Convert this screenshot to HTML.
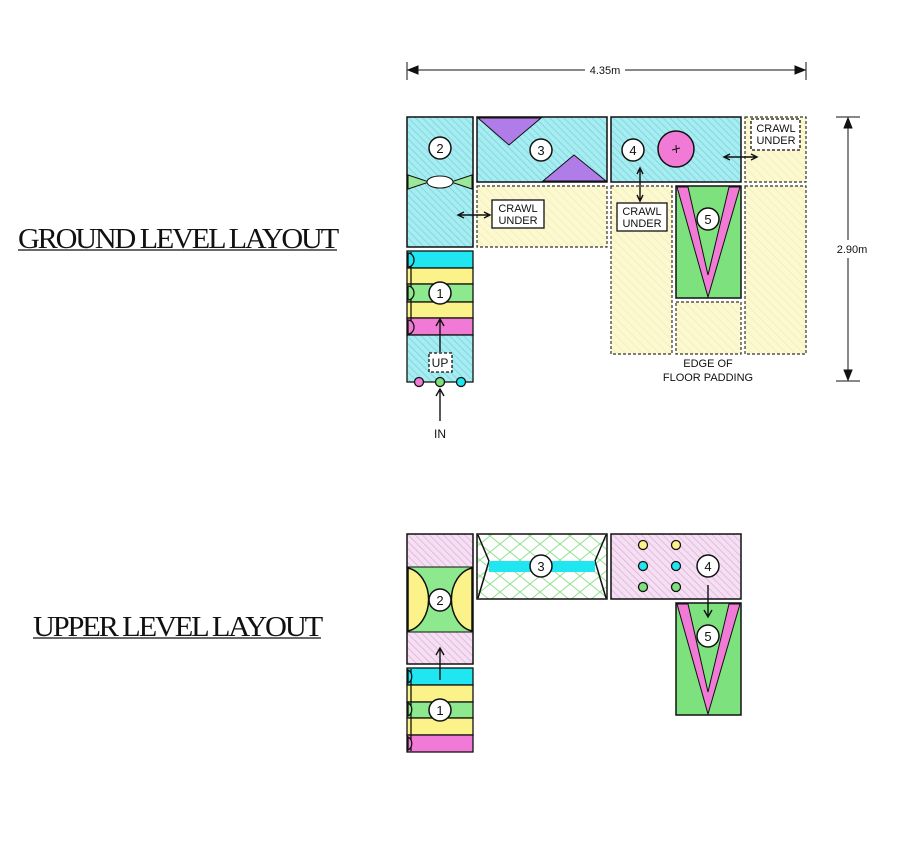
<!DOCTYPE html>
<html><head><style>
html,body{margin:0;padding:0;background:#fff;}
svg{display:block;}
.t{font-family:"Liberation Sans",sans-serif;font-size:11px;fill:#111;}
.ttl{font-family:"Liberation Serif",serif;font-size:28px;fill:#111;letter-spacing:-2px;}
</style></head><body>
<svg width="898" height="855" viewBox="0 0 898 855" xmlns="http://www.w3.org/2000/svg">
<defs>
<pattern id="cy" width="5" height="5" patternUnits="userSpaceOnUse" patternTransform="rotate(-45)">
<rect width="5" height="5" fill="#a6ecf0"/><line x1="0" y1="0" x2="0" y2="5" stroke="#6fd0da" stroke-width="1.3"/></pattern>
<pattern id="ye" width="6" height="6" patternUnits="userSpaceOnUse" patternTransform="rotate(-45)">
<rect width="6" height="6" fill="#fcf8cf"/><line x1="0" y1="0" x2="0" y2="6" stroke="#f3edba" stroke-width="1.5"/></pattern>
<pattern id="pk" width="5" height="5" patternUnits="userSpaceOnUse" patternTransform="rotate(-45)">
<rect width="5" height="5" fill="#f5dff2"/><line x1="0" y1="0" x2="0" y2="5" stroke="#dba8d8" stroke-width="1.3"/></pattern>
<pattern id="gx" width="20" height="16" patternUnits="userSpaceOnUse">
<rect width="20" height="16" fill="#fff"/><path d="M0 0L20 16M20 0L0 16" stroke="#8fe08f" stroke-width="1"/></pattern>
</defs>

<!-- titles -->
<text x="18" y="248" class="ttl" textLength="319" lengthAdjust="spacingAndGlyphs">GROUND LEVEL LAYOUT</text>
<line x1="18" y1="250" x2="337" y2="250" stroke="#111" stroke-width="1.3"/>
<text x="33" y="636" class="ttl" textLength="288" lengthAdjust="spacingAndGlyphs">UPPER LEVEL LAYOUT</text>
<line x1="33" y1="638" x2="321" y2="638" stroke="#111" stroke-width="1.3"/>

<!-- dimensions -->
<line x1="407" y1="62" x2="407" y2="80" stroke="#111"/>
<line x1="806" y1="62" x2="806" y2="80" stroke="#111"/>
<path d="M409 70L585 70M625 70L804 70" stroke="#111"/>
<path d="M418 66L408 70L418 74ZM795 66L805 70L795 74Z" fill="#111" stroke="#111"/>
<text x="605" y="74" class="t" text-anchor="middle">4.35m</text>
<line x1="836" y1="117" x2="860" y2="117" stroke="#111"/>
<line x1="836" y1="381" x2="860" y2="381" stroke="#111"/>
<path d="M848 118L848 240M848 258L848 380" stroke="#111"/>
<path d="M844 128L848 118L852 128ZM844 370L848 380L852 370Z" fill="#111" stroke="#111"/>
<text x="852" y="253" class="t" text-anchor="middle">2.90m</text>

<!-- GROUND -->
<g stroke="#111" stroke-width="1.5">
<rect x="407" y="117" width="66" height="130" fill="url(#cy)"/>
<rect x="477" y="117" width="130" height="65" fill="url(#cy)"/>
<rect x="611" y="117" width="130" height="65" fill="url(#cy)"/>
</g>
<g stroke="#333" stroke-width="1.2" stroke-dasharray="3,2">
<rect x="477" y="186" width="130" height="61" fill="url(#ye)"/>
<rect x="745" y="117" width="61" height="65" fill="url(#ye)"/>
<rect x="611" y="186" width="61" height="168" fill="url(#ye)"/>
<rect x="676" y="302" width="65" height="52" fill="url(#ye)"/>
<rect x="745" y="186" width="61" height="168" fill="url(#ye)"/>
</g>
<!-- bowtie -->
<path d="M408 175L429 182L408 189Z M472 175L451 182L472 189Z" fill="#9be89b" stroke="#111"/>
<ellipse cx="440" cy="182" rx="13" ry="6" fill="#fff" stroke="#111"/>
<!-- triangles -->
<path d="M478 118L541 118L509 145Z M543 181L606 181L574 155Z" fill="#b07de8" stroke="#111"/>
<!-- green 5 -->
<rect x="676" y="186" width="65" height="112" fill="#7de27d" stroke="#111" stroke-width="1.5"/>
<path d="M677 187L688 187L708 275L729 187L740 187L708 297Z" fill="#f07ad6" stroke="#111"/>
<!-- pink circle -->
<circle cx="676" cy="149" r="18" fill="#f07ad6" stroke="#111" stroke-width="1.5"/>
<path d="M672 150l8 -2M676 145l0.5 8" stroke="#111"/>
<!-- box 1 ground -->
<g stroke="#111" stroke-width="1.3">
<rect x="407" y="251" width="66" height="17" fill="#1fe6f0"/>
<rect x="407" y="268" width="66" height="16" fill="#fbf389"/>
<rect x="407" y="284" width="66" height="18" fill="#8ee88e"/>
<rect x="407" y="302" width="66" height="16" fill="#fbf389"/>
<rect x="407" y="318" width="66" height="17" fill="#f07ad6"/>
<rect x="407" y="335" width="66" height="47" fill="url(#cy)"/>
<line x1="411" y1="252" x2="411" y2="334"/>
<path d="M408 253a6 7 0 0 1 0 14Z" fill="#1fe6f0"/>
<path d="M408 286a6 7 0 0 1 0 14Z" fill="#8ee88e"/>
<path d="M408 320a6 7 0 0 1 0 14Z" fill="#f07ad6"/>
<circle cx="419" cy="382" r="4.5" fill="#f07ad6"/>
<circle cx="440" cy="382" r="4.5" fill="#7de27d"/>
<circle cx="461" cy="382" r="4.5" fill="#1fe6f0"/>
</g>
<!-- labels boxes -->
<g stroke="#111" stroke-width="1.3" fill="#fff">
<rect x="492" y="200" width="52" height="28"/>
<rect x="617" y="203" width="50" height="28"/>
<rect x="751" y="119" width="49" height="31" stroke-dasharray="3,2"/>
<rect x="429" y="353" width="23" height="19" stroke-dasharray="3,2"/>
</g>
<text x="518" y="212" class="t" text-anchor="middle">CRAWL</text>
<text x="518" y="224" class="t" text-anchor="middle">UNDER</text>
<text x="642" y="215" class="t" text-anchor="middle">CRAWL</text>
<text x="642" y="227" class="t" text-anchor="middle">UNDER</text>
<text x="776" y="132" class="t" text-anchor="middle">CRAWL</text>
<text x="776" y="144" class="t" text-anchor="middle">UNDER</text>
<text x="440" y="367" class="t" text-anchor="middle" style="font-size:12px">UP</text>
<text x="708" y="367" class="t" text-anchor="middle">EDGE OF</text>
<text x="708" y="381" class="t" text-anchor="middle">FLOOR PADDING</text>
<text x="440" y="438" class="t" text-anchor="middle" style="font-size:12px">IN</text>
<!-- arrows -->
<g stroke="#111" stroke-width="1.4" fill="none">
<path d="M459 215L490 215M464 212L458 215L464 218M484 212L490 215L484 218"/>
<path d="M640 168L640 201M637 174L640 168L643 174M637 195L640 201L643 195"/>
<path d="M724 157L757 157M730 154L724 157L730 160M751 154L757 157L751 160"/>
<path d="M440 352L440 319M436 326L440 319L444 326"/>
<path d="M440 421L440 389M436 396L440 389L444 396"/>
</g>
<!-- number circles ground -->
<g stroke="#111" stroke-width="1.5" fill="#fff">
<circle cx="440" cy="148" r="11"/><circle cx="541" cy="150" r="11"/>
<circle cx="633" cy="150" r="11"/><circle cx="708" cy="219" r="11"/>
<circle cx="440" cy="293" r="11"/>
</g>
<g class="t" style="font-size:13px" text-anchor="middle">
<text x="440" y="153">2</text><text x="541" y="155">3</text><text x="633" y="155">4</text>
<text x="708" y="224">5</text><text x="440" y="298">1</text>
</g>

<!-- UPPER -->
<g stroke="#111" stroke-width="1.5">
<rect x="407" y="534" width="66" height="130" fill="url(#pk)"/>
<rect x="408" y="567" width="64" height="65" fill="#8ee88e" stroke="none"/>
<line x1="407" y1="567" x2="473" y2="567" stroke-width="1"/>
<line x1="407" y1="632" x2="473" y2="632" stroke-width="1"/>
<path d="M408 568a25 32 0 0 1 0 63Z M472 568a25 32 0 0 0 0 63Z" fill="#fbf389"/>
<rect x="477" y="534" width="130" height="65" fill="url(#gx)"/>
<path d="M478 535L489 561L478 598 M606 535L595 561L606 598" fill="none"/>
<rect x="489" y="561" width="106" height="11" fill="#1fe6f0" stroke="none"/>
<rect x="611" y="534" width="130" height="65" fill="url(#pk)"/>
<rect x="676" y="603" width="65" height="112" fill="#7de27d"/>
<path d="M677 604L688 604L708 692L729 604L740 604L708 714Z" fill="#f07ad6" stroke-width="1"/>
</g>
<g stroke="#111" stroke-width="1.3">
<rect x="407" y="668" width="66" height="17" fill="#1fe6f0"/>
<rect x="407" y="685" width="66" height="17" fill="#fbf389"/>
<rect x="407" y="702" width="66" height="16" fill="#8ee88e"/>
<rect x="407" y="718" width="66" height="17" fill="#fbf389"/>
<rect x="407" y="735" width="66" height="17" fill="#f07ad6"/>
<line x1="411" y1="669" x2="411" y2="751"/>
<path d="M408 670a6 7 0 0 1 0 13Z" fill="#1fe6f0"/>
<path d="M408 703a6 7 0 0 1 0 13Z" fill="#8ee88e"/>
<path d="M408 737a6 7 0 0 1 0 13Z" fill="#f07ad6"/>
<circle cx="643" cy="545" r="4.5" fill="#fbf389"/><circle cx="676" cy="545" r="4.5" fill="#fbf389"/>
<circle cx="643" cy="566" r="4.5" fill="#1fe6f0"/><circle cx="676" cy="566" r="4.5" fill="#1fe6f0"/>
<circle cx="643" cy="587" r="4.5" fill="#7de27d"/><circle cx="676" cy="587" r="4.5" fill="#7de27d"/>
</g>
<g stroke="#111" stroke-width="1.4" fill="none">
<path d="M440 680L440 648M436 655L440 648L444 655"/>
<path d="M708 585L708 617M704 610L708 617L712 610"/>
</g>
<g stroke="#111" stroke-width="1.5" fill="#fff">
<circle cx="440" cy="600" r="11"/><circle cx="541" cy="566" r="11"/>
<circle cx="708" cy="566" r="11"/><circle cx="708" cy="636" r="11"/>
<circle cx="440" cy="710" r="11"/>
</g>
<g class="t" style="font-size:13px" text-anchor="middle">
<text x="440" y="605">2</text><text x="541" y="571">3</text><text x="708" y="571">4</text>
<text x="708" y="641">5</text><text x="440" y="715">1</text>
</g>
</svg>
</body></html>
